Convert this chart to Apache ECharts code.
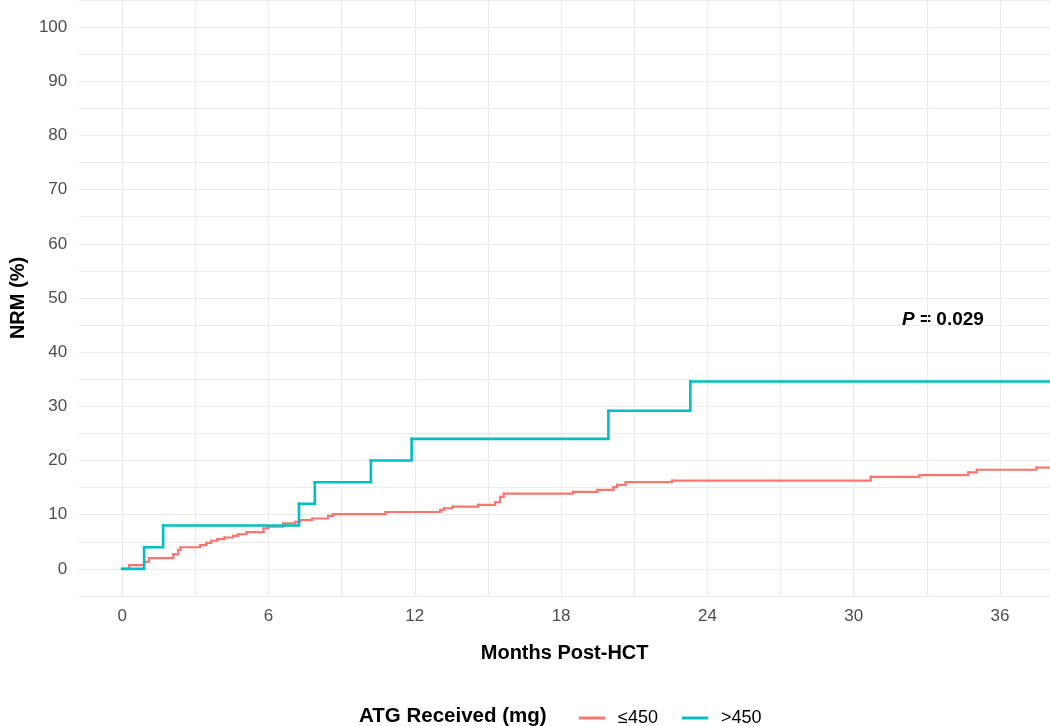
<!DOCTYPE html>
<html>
<head>
<meta charset="utf-8">
<script src="https://cdn.jsdelivr.net/npm/echarts@6/dist/echarts.min.js"></script>
<style>
  html, body { margin: 0; padding: 0; background: #fff; }
  #chart { width: 1050px; height: 726px; }
</style>
</head>
<body>
<div id="chart"></div>
<script>
// 累积发生率（阶梯），单位：月 / %
const lowMonths = [0, 0.29, 0.9, 1.1, 2.1, 2.3, 2.4, 3.2, 3.45, 3.65, 3.9, 4.2, 4.55, 4.75, 5.1, 5.8, 6.0, 6.6, 7.1, 7.3, 7.8, 8.45, 8.65, 10.8, 13.05, 13.2, 13.55, 14.6, 15.3, 15.5, 15.65, 18.5, 19.5, 20.15, 20.3, 20.65, 22.55, 30.7, 32.7, 34.7, 35.05, 37.5, 38.05];
const lowNRM = [0, 0.7, 1.3, 2.0, 2.7, 3.5, 4.0, 4.4, 4.8, 5.2, 5.5, 5.8, 6.1, 6.4, 6.8, 7.5, 7.8, 8.4, 8.7, 9.0, 9.3, 9.8, 10.1, 10.5, 10.9, 11.2, 11.5, 11.8, 12.3, 13.3, 13.9, 14.2, 14.6, 15.1, 15.5, 16.0, 16.3, 17.0, 17.3, 17.8, 18.3, 18.7, 18.7];

const highMonths = [0, 0.9, 1.68, 7.25, 7.9, 10.2, 11.87, 19.94, 23.3, 38.05];
const highNRM = [0, 4, 8, 12, 16, 20, 24, 29.2, 34.6, 34.6];

const groupNames = ['≤450', '>450'];
const groupColors = ['#F8766D', '#00BFC4'];

// 坐标轴刻度
const xTicks = [0, 6, 12, 18, 24, 30, 36];
const xGrid = [0, 3, 6, 9, 12, 15, 18, 21, 24, 27, 30, 33, 36];
const yTicks = [0, 10, 20, 30, 40, 50, 60, 70, 80, 90, 100];
const yGrid = [-5, 0, 5, 10, 15, 20, 25, 30, 35, 40, 45, 50, 55, 60, 65, 70, 75, 80, 85, 90, 95, 100, 105];

const chart = echarts.init(document.getElementById('chart'));

const FONT = 'Liberation Sans, Arial, sans-serif';

// 每一段阶梯: [x起点, y, x下一点, y下一点]
const toSteps = (xs, ys) => xs.slice(0, -1).map((x, i) => [x, ys[i], xs[i + 1], ys[i + 1]]);

// line 系列会合并 <2px 的线段，小台阶会被画成斜线，所以用 custom 自己画
const stepSeries = (name, xs, ys, color, width) => ({
  name: name,
  type: 'custom',
  data: toSteps(xs, ys),
  encode: { x: [0, 2], y: [1, 3] },
  itemStyle: { color: color },
  clip: true,
  renderItem: (params, api) => {
    const p0 = api.coord([api.value(0), api.value(1)]);
    const p1 = api.coord([api.value(2), api.value(1)]);
    const p2 = api.coord([api.value(2), api.value(3)]);
    return {
      type: 'polyline',
      shape: { points: [p0, p1, p2] },
      style: { stroke: color, lineWidth: width, fill: null, lineCap: 'square', lineJoin: 'miter' }
    };
  }
});

const option = {
  backgroundColor: '#fff',
  animation: false,
  textStyle: { fontFamily: FONT },
  grid: { left: 78, right: 0, top: 0, bottom: 130, containLabel: false },
  xAxis: {
    type: 'value',
    min: -1.76,
    max: 38.05,
    name: 'Months Post-HCT',
    nameLocation: 'middle',
    nameGap: 47,
    nameTextStyle: { fontSize: 20, fontWeight: 'bold', color: '#000' },
    axisLine: { show: false },
    axisTick: { show: false, customValues: xGrid },
    axisLabel: { customValues: xTicks, fontSize: 17, color: '#4D4D4D', margin: 12 },
    splitLine: { show: true, lineStyle: { color: '#EBEBEB', width: 1.2 } }
  },
  yAxis: {
    type: 'value',
    min: -5,
    max: 105,
    name: 'NRM (%)',
    nameLocation: 'middle',
    nameGap: 51,
    nameTextStyle: { fontSize: 20, fontWeight: 'bold', color: '#000' },
    axisLine: { show: false },
    axisTick: { show: false, customValues: yGrid },
    axisLabel: { customValues: yTicks, fontSize: 17, color: '#4D4D4D', margin: 12 },
    splitLine: { show: true, lineStyle: { color: '#EBEBEB', width: 1.2 } }
  },
  legend: {
    data: groupNames,
    left: 574,
    top: 704,
    icon: 'rect',
    itemWidth: 26,
    itemHeight: 3,
    itemGap: 24,
    textStyle: { fontSize: 18, color: '#000', padding: [0, 0, 0, 8] }
  },
  graphic: [
    {
      type: 'text',
      left: 359,
      top: 706,
      style: { text: 'ATG Received (mg)', fontSize: 20.5, fontWeight: 'bold', fill: '#000', fontFamily: FONT }
    },
    // P 值标注
    {
      type: 'text',
      left: 902,
      top: 310,
      style: { text: 'P', fontSize: 19, fontWeight: 'bold', fontStyle: 'italic', fill: '#000', fontFamily: FONT }
    },
    {
      type: 'text',
      left: 920,
      top: 310,
      style: { text: '= 0.029', fontSize: 19, fontWeight: 'bold', fill: '#000', fontFamily: FONT }
    }
  ],
  series: [
    stepSeries(groupNames[0], lowMonths, lowNRM, groupColors[0], 2.2),
    stepSeries(groupNames[1], highMonths, highNRM, groupColors[1], 2.6)
  ]
};

chart.setOption(option);
window.addEventListener('resize', () => chart.resize());
</script>
</body>
</html>
